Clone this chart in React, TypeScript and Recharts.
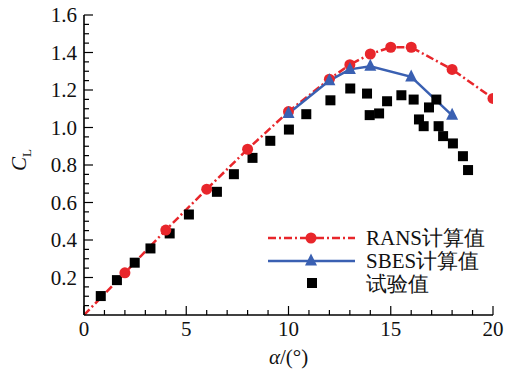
import React from 'react';
import { ComposedChart, Line, Scatter, XAxis, YAxis, Legend } from 'recharts';

// RANS computation (red dash-dot, circles)
const RANS_ALPHA = [0, 2, 4, 6, 8, 10, 12, 13, 14, 15, 16, 18, 20];
const RANS_CL = [0, 0.225, 0.453, 0.671, 0.884, 1.085, 1.258, 1.335, 1.392, 1.428, 1.428, 1.31, 1.155];

// SBES computation (blue solid, triangles)
const SBES_ALPHA = [10, 12, 13, 14, 16, 18];
const SBES_CL = [1.075, 1.25, 1.31, 1.327, 1.27, 1.065];

// experiment (black squares)
const EXP_ALPHA = [
  0.82, 1.61, 2.48, 3.25, 4.19, 5.13, 6.5, 7.33, 8.24, 9.11, 10.02, 10.87, 12.05, 13.02, 13.84,
  13.97, 14.43, 14.82, 15.52, 16.12, 16.38, 16.61, 16.87, 17.23, 17.34, 17.56, 18.04, 18.53, 18.78,
];
const EXP_CL = [
  0.101, 0.186, 0.279, 0.355, 0.435, 0.536, 0.657, 0.751, 0.838, 0.929, 0.989, 1.071, 1.145, 1.208, 1.181,
  1.066, 1.075, 1.14, 1.172, 1.149, 1.043, 1.007, 1.107, 1.149, 1.007, 0.954, 0.915, 0.847, 0.773,
];

const X_MAJOR = [0, 5, 10, 15, 20];
const Y_MAJOR = [0.2, 0.4, 0.6, 0.8, 1.0, 1.2, 1.4, 1.6];

const X_TICKS = Array.from({ length: 21 }, (_, i) => i);
const Y_TICKS = Array.from({ length: 33 }, (_, i) => Math.round(i * 5) / 100);

const RED = '#e8262b';
const BLUE = '#3a60b2';
const txt = { fontFamily: 'Liberation Serif', fontSize: 21 };

const ransData = RANS_ALPHA.map((x, i) => ({ x, y: RANS_CL[i] }));
const sbesData = SBES_ALPHA.map((x, i) => ({ x, y: SBES_CL[i] }));
const expData = EXP_ALPHA.map((x, i) => ({ x, y: EXP_CL[i] }));

const XTick = ({ x, y, payload }: any) => {
  const v = payload.value;
  const major = X_MAJOR.includes(v);
  return (
    <g>
      <line x1={x} x2={x} y1={y} y2={y - (major ? 9 : 5)} stroke="#000" strokeWidth={1.2} />
      {major && (
        <text x={x} y={y + 21} textAnchor="middle" style={txt} fill="#111">
          {v}
        </text>
      )}
    </g>
  );
};

const YTick = ({ x, y, payload }: any) => {
  const v = payload.value;
  if (v === 0) return <g />;
  const major = Y_MAJOR.some((m) => Math.abs(m - v) < 1e-6);
  return (
    <g>
      <line x1={x} x2={x + (major ? 9 : 5)} y1={y} y2={y} stroke="#000" strokeWidth={1.2} />
      {major && (
        <text x={x - 7} y={y + 7} textAnchor="end" style={txt} fill="#111">
          {v.toFixed(1)}
        </text>
      )}
    </g>
  );
};

const RansDot = (p: any) => {
  if (p.payload.x === 0) return <g key={p.key} />;
  return <circle key={p.key} cx={p.cx} cy={p.cy} r={5.5} fill={RED} />;
};

const triangle = (cx: number, cy: number, s: number) =>
  `M${cx},${cy - s * 0.62} L${cx + s / 2},${cy + s * 0.38} L${cx - s / 2},${cy + s * 0.38} Z`;

const SbesDot = (p: any) => <path key={p.key} d={triangle(p.cx, p.cy, 12)} fill={BLUE} />;

const Square = (p: any) => <rect x={p.cx - 5} y={p.cy - 5} width={10} height={10} fill="#000" />;

const renderLegend = () => (
  <svg width={250} height={75} style={{ display: 'block' }}>
    <line x1={8} x2={95} y1={16} y2={16} stroke={RED} strokeWidth={2.5} strokeDasharray="8 3 2 3" />
    <circle cx={51} cy={16} r={5.5} fill={RED} />
    <text x={106} y={23} style={txt} fill="#111">RANS计算值</text>
    <line x1={8} x2={95} y1={39} y2={39} stroke={BLUE} strokeWidth={2.5} />
    <path d={triangle(51, 39, 12)} fill={BLUE} />
    <text x={106} y={46} style={txt} fill="#111">SBES计算值</text>
    <rect x={47} y={56} width={10} height={10} fill="#000" />
    <text x={106} y={69} style={txt} fill="#111">试验值</text>
  </svg>
);

export default function App() {
  return (
    <div style={{ position: 'absolute', left: 0, top: 0, background: '#fff', fontFamily: 'Liberation Serif' }}>
      <ComposedChart
        width={518}
        height={371}
        margin={{ top: 15, right: 25, bottom: 0, left: 0 }}
        style={{ fontFamily: 'Liberation Serif' }}
      >
        <XAxis
          type="number"
          dataKey="x"
          domain={[0, 20]}
          ticks={X_TICKS}
          interval={0}
          height={56}
          tickSize={0}
          tickMargin={0}
          tickLine={false}
          tick={<XTick />}
          axisLine={{ stroke: '#000', strokeWidth: 1.6 }}
          allowDataOverflow
          label={{
            content: () => (
              <text x={288.5} y={364} textAnchor="middle" style={txt} fill="#111">
                <tspan fontStyle="italic">α</tspan>/(°)
              </text>
            ),
          }}
        />
        <YAxis
          type="number"
          dataKey="y"
          domain={[0, 1.6]}
          ticks={Y_TICKS}
          interval={0}
          width={84}
          tickSize={0}
          tickMargin={0}
          tickLine={false}
          tick={<YTick />}
          axisLine={{ stroke: '#000', strokeWidth: 1.6 }}
          allowDataOverflow
          label={{
            content: () => (
              <text x={26} y={160} textAnchor="middle" style={txt} fill="#111" transform="rotate(-90 26 160)">
                <tspan fontStyle="italic">C</tspan>
                <tspan fontSize={13} dy={5}>L</tspan>
              </text>
            ),
          }}
        />
        <Legend
          layout="vertical"
          align="center"
          verticalAlign="middle"
          content={renderLegend}
          wrapperStyle={{ left: 260, top: 222, width: 250, height: 75 }}
        />
        <Line
          data={ransData}
          dataKey="y"
          type="linear"
          stroke={RED}
          strokeWidth={2.5}
          strokeDasharray="8 3 2 3"
          dot={RansDot}
          activeDot={false}
          isAnimationActive={false}
        />
        <Line
          data={sbesData}
          dataKey="y"
          type="linear"
          stroke={BLUE}
          strokeWidth={2.5}
          dot={SbesDot}
          activeDot={false}
          isAnimationActive={false}
        />
        <Scatter data={expData} dataKey="y" shape={Square} isAnimationActive={false} />
      </ComposedChart>
    </div>
  );
}
